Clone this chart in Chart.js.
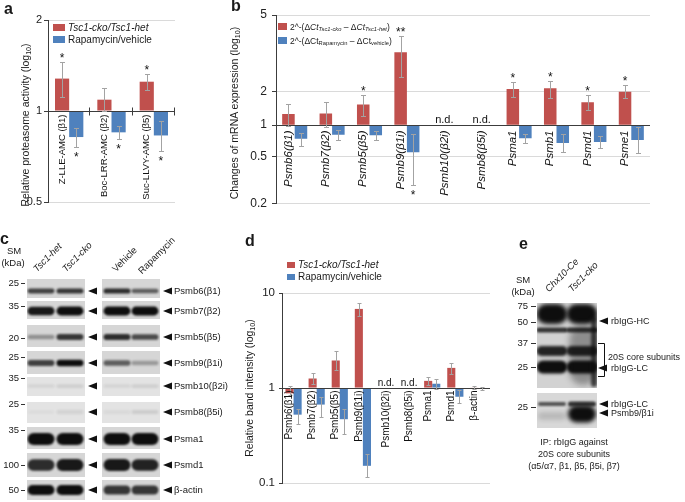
<!DOCTYPE html>
<html>
<head>
<meta charset="utf-8">
<script src="https://cdn.jsdelivr.net/npm/chart.js@4.4.1/dist/chart.umd.min.js"></script>
<style>
html, body { margin: 0; padding: 0; background: #fff; }
#fig { position: relative; width: 685px; height: 502px; overflow: hidden;
  font-family: "Liberation Sans", Arial, Helvetica, sans-serif; color: #1a1a1a; }
.box { position: absolute; }
.lab { position: absolute; white-space: nowrap; font-size: 10px; line-height: 1; transform: translateY(-50%); }
.rt { transform: translate(-100%, -50%); }
.ct { transform: translate(-50%, -50%); }
.panel { position: absolute; font-weight: bold; font-size: 16px; line-height: 1; }
.ytitle { position: absolute; white-space: nowrap; font-size: 10.5px; line-height: 1;
  transform: translate(-50%, -50%) rotate(-90deg); }
.sw { position: absolute; }
.tilt { position: absolute; white-space: nowrap; font-size: 9.5px; line-height: 1;
  transform-origin: 0 100%; transform: rotate(-45deg); }
sub { font-size: 0.68em; vertical-align: -0.3em; line-height: 0; }
</style>
</head>
<body>
<div id="fig">
  <canvas id="blots" width="685" height="502" style="position:absolute;left:0;top:0"></canvas>
  <div class="box" style="left:0;top:0;width:177px;height:212px"><canvas id="chartA"></canvas></div>
  <div class="box" style="left:200px;top:0;width:452px;height:216px"><canvas id="chartB"></canvas></div>
  <div class="box" style="left:230px;top:280px;width:262px;height:214px"><canvas id="chartD"></canvas></div>

  <div class="panel" style="left:4px;top:1px">a</div>
  <div class="panel" style="left:231px;top:-2px">b</div>
  <div class="panel" style="left:0px;top:231px">c</div>
  <div class="panel" style="left:245px;top:233px">d</div>
  <div class="panel" style="left:519px;top:236px">e</div>

  <div class="ytitle" style="left:25px;top:125px">Relative proteasome activity (log<sub>10</sub>)</div>
  <div class="ytitle" style="left:234px;top:113px">Changes of mRNA expression (log<sub>10</sub>)</div>
  <div class="ytitle" style="left:249px;top:388px">Relative band intensity (log<sub>10</sub>)</div>

  <div class="sw" style="left:53px;top:24px;width:12px;height:7px;background:#c0504d"></div>
  <div class="lab" style="left:68px;top:27.5px"><i>Tsc1-cko/Tsc1-het</i></div>
  <div class="sw" style="left:53px;top:36px;width:12px;height:7px;background:#4f81bd"></div>
  <div class="lab" style="left:68px;top:39.5px">Rapamycin/vehicle</div>

  <div class="sw" style="left:278px;top:23px;width:9px;height:7px;background:#c0504d"></div>
  <div class="lab" style="left:290px;top:26.5px;font-size:8.5px">2^-(Δ<i>Ct</i><sub><i>Tsc1-cko</i></sub> – Δ<i>Ct</i><sub><i>Tsc1-het</i></sub>)</div>
  <div class="sw" style="left:278px;top:37px;width:9px;height:7px;background:#4f81bd"></div>
  <div class="lab" style="left:290px;top:40.5px;font-size:8.5px">2^-(ΔCt<sub>Rapamycin</sub> – ΔCt<sub>vehicle</sub>)</div>

  <div class="sw" style="left:287px;top:262px;width:8px;height:6px;background:#c0504d"></div>
  <div class="lab" style="left:298px;top:265px"><i>Tsc1-cko/Tsc1-het</i></div>
  <div class="sw" style="left:287px;top:274px;width:8px;height:6px;background:#4f81bd"></div>
  <div class="lab" style="left:298px;top:277px">Rapamycin/vehicle</div>

  <div class="lab ct" style="left:14px;top:251px;font-size:9.5px">SM</div>
  <div class="lab ct" style="left:13px;top:263px;font-size:9.5px">(kDa)</div>
  <div class="tilt" style="left:38px;top:264px"><i>Tsc1-het</i></div>
  <div class="tilt" style="left:67px;top:264px"><i>Tsc1-cko</i></div>
  <div class="tilt" style="left:117px;top:264px">Vehicle</div>
  <div class="tilt" style="left:143px;top:266px">Rapamycin</div>

  <div class="lab ct" style="left:523px;top:280px;font-size:9.5px">SM</div>
  <div class="lab ct" style="left:523px;top:292px;font-size:9.5px">(kDa)</div>
  <div class="tilt" style="left:550px;top:284px"><i>Chx10-Ce</i></div>
  <div class="tilt" style="left:573px;top:284px"><i>Tsc1-cko</i></div>
  <div class="lab ct" style="left:574px;top:442px;font-size:9px">IP: rbIgG against</div>
  <div class="lab ct" style="left:574px;top:454px;font-size:9px">20S core subunits</div>
  <div class="lab ct" style="left:574px;top:466px;font-size:9px">(α5/α7, β1, β5, β5i, β7)</div>
</div>

<script>
const FONT = '"Liberation Sans", Arial, Helvetica, sans-serif';
const RED = '#c0504d';
const BLUE = '#4f81bd';

// ---------- panel a: proteasome activity
const aCategories = ['Z-LLE-AMC (β1)', 'Boc-LRR-AMC (β2)', 'Suc-LLVY-AMC (β5)'];
const aTicks = [0.5, 1, 2];
const aCko = [1.28, 1.09, 1.25];
const aCkoHi = [1.45, 1.19, 1.33];
const aCkoLo = [1.11, 1.0, 1.17];
const aCkoSig = ['*', '', '*'];
const aRapa = [0.82, 0.85, 0.83];
const aRapaHi = [0.88, 0.89, 0.93];
const aRapaLo = [0.76, 0.81, 0.74];
const aRapaSig = ['*', '*', '*'];

// ---------- panel b: mRNA expression
const bGenes = ['Psmb6(β1)', 'Psmb7(β2)', 'Psmb5(β5)', 'Psmb9(β1i)', 'Psmb10(β2i)', 'Psmb8(β5i)', 'Psma1', 'Psmb1', 'Psmd1', 'Psme1'];
const bTicks = [0.2, 0.5, 1, 2, 5];
const bCko = [1.26, 1.27, 1.53, 3.2, null, null, 2.06, 2.08, 1.6, 1.99];
const bCkoHi = [1.54, 1.61, 1.86, 3.9, null, null, 2.23, 2.28, 1.86, 2.15];
const bCkoLo = [0.98, 0.95, 1.21, 2.37, null, null, 1.78, 1.75, 1.36, 1.75];
const bCkoSig = ['', '', '*', '**', '', '', '*', '*', '*', '*'];
const bRapa = [0.74, 0.81, 0.8, 0.55, null, null, 0.75, 0.675, 0.69, 0.72];
const bRapaHi = [0.85, 0.9, 0.88, 0.82, null, null, 0.83, 0.82, 0.78, 0.95];
const bRapaLo = [0.63, 0.72, 0.72, 0.29, null, null, 0.67, 0.55, 0.61, 0.54];
const bRapaSig = ['', '', '', '*', '', '', '', '', '', ''];

// ---------- panel d: band intensity
const dProteins = ['Psmb6(β1)', 'Psmb7(β2)', 'Psmb5(β5)', 'Psmb9(β1i)', 'Psmb10(β2i)', 'Psmb8(β5i)', 'Psma1', 'Psmd1', 'β-actin'];
const dTicks = [0.1, 1, 10];
const dCko = [0.88, 1.26, 1.95, 6.8, null, null, 1.19, 1.63, 1.01];
const dCkoHi = [1.06, 1.44, 2.44, 7.9, null, null, 1.31, 1.85, 1.05];
const dCkoLo = [0.84, 1.1, 1.54, 5.7, null, null, 1.08, 1.42, 0.97];
const dRapa = [0.525, 0.67, 0.47, 0.152, null, null, 1.11, 0.81, 0.99];
const dRapaHi = [0.6, 0.8, 0.6, 0.2, null, null, 1.26, 0.95, 1.03];
const dRapaLo = [0.42, 0.49, 0.325, 0.115, null, null, 0.97, 0.69, 0.96];

// ---------- panel c: western blots (lanes: Tsc1-het, Tsc1-cko, Vehicle, Rapamycin)
const cBands = ['Psmb6(β1)', 'Psmb7(β2)', 'Psmb5(β5)', 'Psmb9(β1i)', 'Psmb10(β2i)', 'Psmb8(β5i)', 'Psma1', 'Psmd1', 'β-actin'];
const cMarkers = ['25', '35', '20', '25', '35', '25', '35', '100', '50'];
const cLevels = [
  [0.75, 0.8, 0.85, 0.6],
  [0.95, 1, 1, 1],
  [0.35, 0.8, 0.85, 0.7],
  [0.75, 1, 0.6, 0.3],
  [0.08, 0.1, 0.08, 0.1],
  [0.03, 0.08, 0.05, 0.1],
  [1, 1, 1, 1],
  [0.85, 0.95, 0.95, 0.9],
  [1, 1, 0.8, 0.8]
];

// ---------- panel e: IP blot
const eMarkers = ['75', '50', '37', '25', '25'];
const eTopLabels = ['rbIgG-HC', '20S core subunits', 'rbIgG-LC'];
const eBottomLabels = ['rbIgG-LC', 'Psmb9/β1i'];

// piecewise log axis used by panel b (its tick spacing is not uniform)
const B_KNOTS = [[0.2, 0], [0.5, 0.25], [1, 0.4167], [2, 0.595], [5, 1]];
class SegLogScale extends Chart.LogarithmicScale {
  getPixelForValue(value) {
    if (value == null || isNaN(value)) return NaN;
    const lv = Math.log(value);
    let i = 0;
    while (i < B_KNOTS.length - 2 && lv > Math.log(B_KNOTS[i + 1][0])) i++;
    const [v0, d0] = B_KNOTS[i], [v1, d1] = B_KNOTS[i + 1];
    const t = (lv - Math.log(v0)) / (Math.log(v1) - Math.log(v0));
    return this.getPixelForDecimal(d0 + t * (d1 - d0));
  }
}
SegLogScale.id = 'seglog';
SegLogScale.defaults = {};
Chart.register(SegLogScale);

// baseline, error bars, stars, in-plot category labels, n.d.
const extras = {
  id: 'extras',
  afterDatasetsDraw(chart, args, o) {
    const ctx = chart.ctx, xs = chart.scales.x, ys = chart.scales.y, area = chart.chartArea;
    const yb = Math.round(ys.getPixelForValue(1)) + 0.5;
    const n = chart.data.labels.length;
    ctx.save();
    ctx.lineWidth = 1;
    ctx.strokeStyle = '#3c3c3c';
    ctx.beginPath();
    ctx.moveTo(area.left, yb);
    ctx.lineTo(area.right, yb);
    if (o.boundaryTicks) {
      for (let i = 1; i <= n; i++) {
        const x = Math.round(i < n ? (xs.getPixelForValue(i - 1) + xs.getPixelForValue(i)) / 2 : area.right) - 0.5;
        ctx.moveTo(x, yb - 4);
        ctx.lineTo(x, yb + 4);
      }
    }
    ctx.stroke();

    chart.data.datasets.forEach((ds, di) => {
      chart.getDatasetMeta(di).data.forEach((bar, j) => {
        const v = ds.data[j];
        if (v == null) return;
        const x = Math.round(bar.x) + 0.5;
        const yHi = Math.round(ys.getPixelForValue(ds.errHi[j])) + 0.5;
        const yLo = Math.round(ys.getPixelForValue(ds.errLo[j])) + 0.5;
        ctx.strokeStyle = '#a3a3a3';
        ctx.beginPath();
        ctx.moveTo(x, yHi); ctx.lineTo(x, yLo);
        ctx.moveTo(x - o.cap, yHi); ctx.lineTo(x + o.cap, yHi);
        ctx.moveTo(x - o.cap, yLo); ctx.lineTo(x + o.cap, yLo);
        ctx.stroke();
        const s = ds.sig && ds.sig[j];
        if (s) {
          ctx.fillStyle = '#111';
          ctx.font = o.starFont + 'px ' + FONT;
          ctx.textAlign = 'center';
          ctx.textBaseline = 'alphabetic';
          const yc = v >= 1 ? yHi - o.starGap : yLo + o.starGap;
          ctx.fillText(s, bar.x, yc + 0.58 * o.starFont);
        }
      });
    });

    const m0 = chart.getDatasetMeta(0);
    ctx.fillStyle = '#111';
    chart.data.labels.forEach((lab, i) => {
      const nd = chart.data.datasets.every(ds => ds.data[i] == null);
      const x = nd ? xs.getPixelForValue(i) : m0.data[i].x;
      ctx.save();
      ctx.translate(x, yb + o.labelGap);
      ctx.rotate(-Math.PI / 2);
      ctx.font = (o.italic ? 'italic ' : '') + o.labelFont + 'px ' + FONT;
      ctx.textAlign = 'right';
      ctx.textBaseline = 'middle';
      ctx.fillText(lab, 0, 0);
      ctx.restore();
      if (nd) {
        ctx.font = o.ndFont + 'px ' + FONT;
        ctx.textAlign = 'center';
        ctx.textBaseline = 'alphabetic';
        ctx.fillText('n.d.', x, yb - 3);
      }
    });
    ctx.restore();
  }
};

function yAxis(type, min, max, ticks, width, fontSize, tickLen, pad) {
  return {
    type, min, max, bounds: 'data',
    afterBuildTicks: s => { s.ticks = ticks.map(v => ({ value: v })); },
    afterFit: s => { s.width = width; },
    ticks: { callback: v => String(v), color: '#222', padding: pad, font: { size: fontSize, family: FONT } },
    grid: {
      color: c => (c.tick && c.tick.value === 1 ? '#3c3c3c' : '#dadada'),
      tickColor: '#3c3c3c', tickLength: tickLen
    },
    border: { color: '#3c3c3c' }
  };
}

function barSet(label, data, hi, lo, sig, color, pct) {
  return { label, data, errHi: hi, errLo: lo, sig, base: 1, backgroundColor: color,
    categoryPercentage: pct, barPercentage: 1 };
}

function barChart(id, labels, sets, y, padding, extra) {
  return new Chart(document.getElementById(id), {
    type: 'bar',
    data: { labels, datasets: sets },
    options: {
      responsive: true, maintainAspectRatio: false, animation: false,
      layout: { padding },
      plugins: { legend: { display: false }, tooltip: { enabled: false }, extras: extra },
      scales: { x: { display: false }, y }
    },
    plugins: [extras]
  });
}

barChart('chartA', aCategories, [
  barSet('Tsc1-cko/Tsc1-het', aCko, aCkoHi, aCkoLo, aCkoSig, RED, 0.67),
  barSet('Rapamycin/vehicle', aRapa, aRapaHi, aRapaLo, aRapaSig, BLUE, 0.67)
], yAxis('logarithmic', 0.5, 2, aTicks, 48, 11, 4, 2),
  { top: 20, bottom: 10, left: 0, right: 2 },
  { cap: 2.5, starFont: 12, starGap: 7, labelFont: 9.5, labelGap: 3, italic: false, boundaryTicks: true, ndFont: 10 });

barChart('chartB', bGenes, [
  barSet('Tsc1-cko vs Tsc1-het', bCko, bCkoHi, bCkoLo, bCkoSig, RED, 0.67),
  barSet('Rapamycin vs vehicle', bRapa, bRapaHi, bRapaLo, bRapaSig, BLUE, 0.67)
], yAxis('seglog', 0.2, 5, bTicks, 76, 12, 4, 5),
  { top: 15, bottom: 9, left: 0, right: 2 },
  { cap: 2.5, starFont: 12, starGap: 7, labelFont: 11.5, labelGap: 5, italic: true, boundaryTicks: false, ndFont: 11 });

barChart('chartD', dProteins, [
  barSet('Tsc1-cko/Tsc1-het', dCko, dCkoHi, dCkoLo, null, RED, 0.7),
  barSet('Rapamycin/vehicle', dRapa, dRapaHi, dRapaLo, null, BLUE, 0.7)
], yAxis('logarithmic', 0.1, 10, dTicks, 52, 11.5, 3, 4),
  { top: 13, bottom: 9, left: 0, right: 2 },
  { cap: 2, starFont: 12, starGap: 7, labelFont: 10, labelGap: 2, italic: false, boundaryTicks: false, ndFont: 10 });

// ---------- blot drawings (panels c and e)
const fig = document.getElementById('fig');
const g = document.getElementById('blots').getContext('2d');

function put(x, y, html, cls, size) {
  const d = document.createElement('div');
  d.className = 'lab' + (cls ? ' ' + cls : '');
  d.style.left = x + 'px';
  d.style.top = y + 'px';
  if (size) d.style.fontSize = size + 'px';
  d.innerHTML = html;
  fig.appendChild(d);
}
function strip(x, y, w, h, color, draw) {
  g.save();
  g.fillStyle = color;
  g.fillRect(x, y, w, h);
  g.beginPath(); g.rect(x, y, w, h); g.clip();
  draw();
  g.restore();
}
function smudge(cx, cy, w, h, level, blur) {
  if (level <= 0) return;
  g.save();
  g.filter = 'blur(' + blur + 'px)';
  g.fillStyle = 'rgba(14,14,14,' + Math.min(level, 1) + ')';
  g.beginPath();
  g.roundRect(cx - w / 2, cy - h / 2, w, h, Math.min(h / 2, w / 2));
  g.fill();
  g.restore();
}
function arrow(x, y) {
  g.fillStyle = '#111';
  g.beginPath();
  g.moveTo(x, y); g.lineTo(x + 9, y - 3.5); g.lineTo(x + 9, y + 3.5);
  g.closePath(); g.fill();
}
function dash(x0, x1, y) {
  g.strokeStyle = '#333'; g.lineWidth = 1;
  g.beginPath(); g.moveTo(x0, Math.round(y) + 0.5); g.lineTo(x1, Math.round(y) + 0.5); g.stroke();
}

// strip geometry of panel c: top, bottom, band y, marker y, band height
const cStrips = [
  [279, 298, 291, 283, 5], [301, 319, 311, 306, 8], [325, 347, 337, 338, 6],
  [351, 374, 363, 357, 6], [377, 396, 386, 378, 5], [402, 423, 412, 404, 6],
  [427, 449, 439, 430, 11], [453, 477, 465, 465, 11], [480, 500, 490, 490, 9]
];
const cLaneX = [41, 70, 117, 145];
const cBoxes = [[27, 58], [102, 58]];
cStrips.forEach(([top, bot, by, my, bh], i) => {
  const lv = cLevels[i];
  const faint = Math.max(...lv) < 0.2;
  cBoxes.forEach(([bx, bw], side) => {
    strip(bx, top, bw, bot - top, faint ? '#e3e3e3' : '#d6d6d6', () => {
      for (let k = 0; k < 2; k++) {
        const lane = side * 2 + k;
        smudge(cLaneX[lane], by, 27, bh * (0.6 + 0.5 * lv[lane]), lv[lane], 1.3);
      }
    });
  });
  arrow(88, by);
  arrow(163, by);
  dash(21, 25, my);
  put(19, my, cMarkers[i], 'rt', 9.5);
  put(174, by, cBands[i], '', 9.5);
});

// panel e
strip(537, 303, 60, 85, '#d2d2d2', () => {
  [552, 582].forEach(cx => {
    smudge(cx, 314, 31, 20, 1, 2);
    smudge(cx, 330, 31, 5, 0.8, 1.2);
    smudge(cx, 351, 31, 10, 0.9, 1.5);
    smudge(cx, 367, 31, 13, 1, 1.5);
  });
  smudge(583, 355, 27, 60, 0.35, 3);
  smudge(594, 352, 6, 70, 0.75, 1.5);
});
strip(537, 393, 60, 35, '#d8d8d8', () => {
  smudge(552, 404, 28, 4, 0.65, 1.2);
  smudge(552, 416, 28, 8, 0.15, 2);
  smudge(582, 404, 28, 5, 0.8, 1.2);
  smudge(582, 414, 28, 17, 1, 2);
});
[306, 322, 343, 367, 407].forEach((y, i) => {
  dash(531, 536, y);
  put(528, y, eMarkers[i], 'rt', 9.5);
});
g.strokeStyle = '#111';
g.beginPath();
g.moveTo(598, 343.5); g.lineTo(604.5, 343.5); g.lineTo(604.5, 376.5); g.lineTo(598, 376.5);
g.stroke();
arrow(599, 321);
arrow(598, 368);
arrow(599, 404);
arrow(599, 413);
put(611, 321, eTopLabels[0], '', 9);
put(608, 357, eTopLabels[1], '', 9);
put(611, 368, eTopLabels[2], '', 9);
put(611, 404, eBottomLabels[0], '', 9);
put(611, 413, eBottomLabels[1], '', 9);
</script>
</body>
</html>
